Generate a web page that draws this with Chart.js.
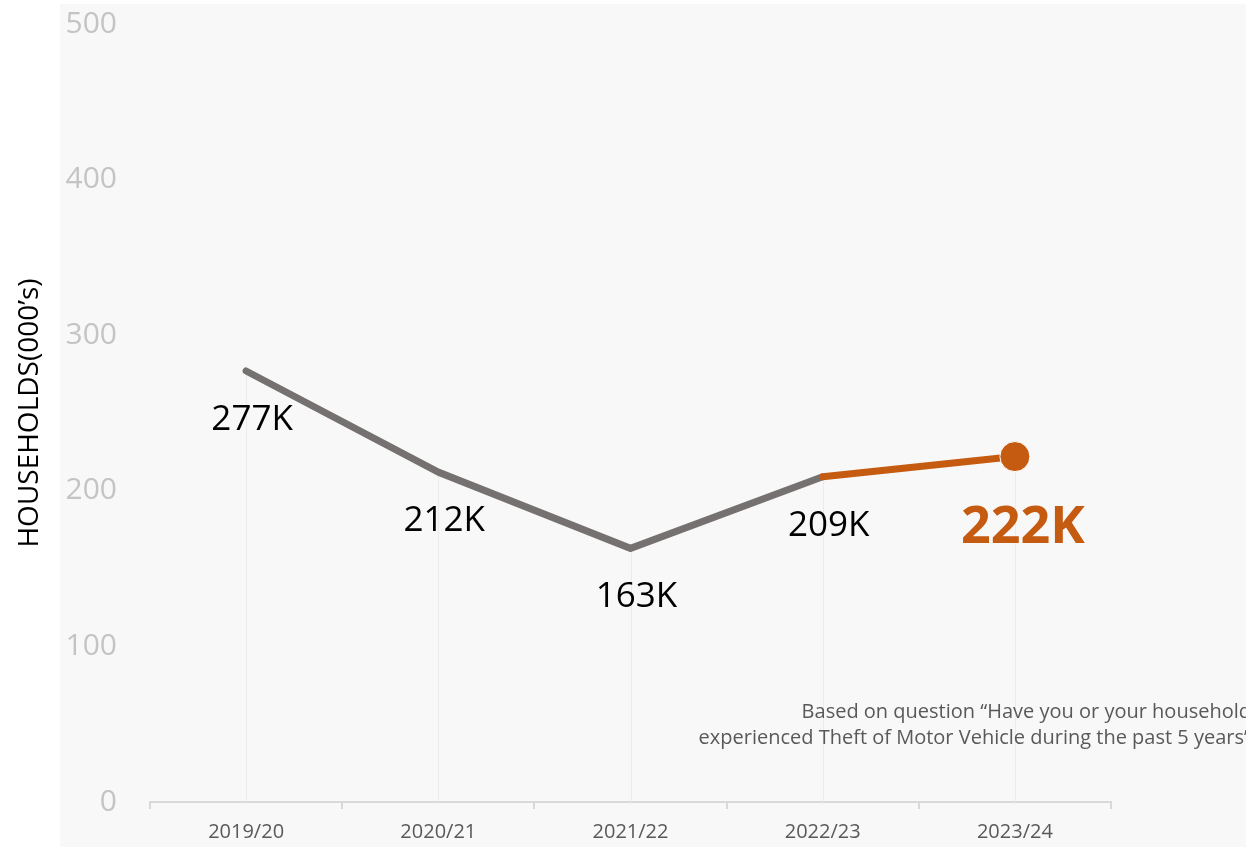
<!DOCTYPE html>
<html>
<head>
<meta charset="utf-8">
<script src="https://cdn.jsdelivr.net/npm/chart.js@4.4.1/dist/chart.umd.min.js"></script>
<style>
  html, body { margin: 0; padding: 0; background: #ffffff; }
  #wrap { width: 1246px; height: 847px; position: relative; }
</style>
</head>
<body>
<div id="wrap"><canvas id="c" width="1246" height="847"></canvas></div>
<script>
const categories = ['2019/20', '2020/21', '2021/22', '2022/23', '2023/24'];
const households = [277, 212, 163, 209, 222];
const yTicks = [0, 100, 200, 300, 400, 500];
const yTitle = 'HOUSEHOLDS(000\u2019s)';
const noteLines = [
  'Based on question \u201CHave you or your household',
  'experienced Theft of Motor Vehicle during the past 5 years\u201D'
];

const GRAY = '#767171';
const ORANGE = '#c55a11';
const FONT = "'Open Sans', 'Noto Sans', sans-serif";
const lastIdx = households.length - 1;

const panelPlugin = {
  id: 'panel',
  beforeDraw(chart) {
    const ctx = chart.ctx;
    ctx.save();
    ctx.fillStyle = '#f8f8f8';
    ctx.fillRect(60, 4, chart.width - 60, chart.height - 4);
    ctx.restore();
  }
};

const dropLinePlugin = {
  id: 'dropLines',
  beforeDatasetsDraw(chart) {
    const ctx = chart.ctx;
    const xs = chart.scales.x, ys = chart.scales.y;
    ctx.save();
    ctx.strokeStyle = '#ebebeb';
    ctx.lineWidth = 1;
    households.forEach((v, i) => {
      const px = Math.round(xs.getPixelForValue(i)) + 0.5;
      ctx.beginPath();
      ctx.moveTo(px, ys.getPixelForValue(v));
      ctx.lineTo(px, chart.chartArea.bottom);
      ctx.stroke();
    });
    ctx.restore();
  }
};

const labelPlugin = {
  id: 'valueLabels',
  afterDatasetsDraw(chart) {
    const ctx = chart.ctx;
    const xs = chart.scales.x, ys = chart.scales.y;
    ctx.save();
    ctx.textAlign = 'center';
    ctx.textBaseline = 'middle';
    households.forEach((v, i) => {
      const px = xs.getPixelForValue(i);
      const py = ys.getPixelForValue(v);
      if (i === lastIdx) {
        ctx.font = "bold 52px " + FONT;
        ctx.fillStyle = ORANGE;
        ctx.fillText(v + 'K', px + 8, py + 72);
      } else {
        ctx.font = "35px " + FONT;
        ctx.fillStyle = '#000000';
        ctx.fillText(v + 'K', px + 6, py + 49);
      }
    });
    // note text
    ctx.font = "20px " + FONT;
    ctx.fillStyle = '#595959';
    ctx.textAlign = 'right';
    ctx.fillText(noteLines[0], 1251, 712);
    ctx.fillText(noteLines[1], 1251, 738);
    ctx.restore();
  }
};

new Chart(document.getElementById('c'), {
  type: 'line',
  data: {
    labels: categories,
    datasets: [{
      data: households,
      borderColor: GRAY,
      borderWidth: 7,
      borderCapStyle: 'round',
      borderJoinStyle: 'round',
      tension: 0,
      segment: {
        borderColor: c => (c.p1DataIndex === lastIdx ? ORANGE : GRAY)
      },
      pointRadius: households.map((v, i) => (i === lastIdx ? 15 : 0)),
      pointHoverRadius: households.map((v, i) => (i === lastIdx ? 15 : 0)),
      pointBackgroundColor: ORANGE,
      pointBorderColor: '#ffffff',
      pointBorderWidth: 1
    }]
  },
  options: {
    responsive: false,
    animation: false,
    devicePixelRatio: 1,
    layout: { padding: { top: 24, right: 135, bottom: 0, left: 0 } },
    plugins: { legend: { display: false }, tooltip: { enabled: false } },
    scales: {
      x: {
        type: 'category',
        offset: true,
        afterFit: s => { s.height = 45; s.paddingLeft = 0; s.paddingRight = 0; },
        grid: {
          offset: true,
          drawOnChartArea: false,
          drawTicks: true,
          tickLength: 7,
          color: '#d9d9d9',
          lineWidth: 2
        },
        border: { display: true, color: '#d9d9d9', width: 2 },
        ticks: {
          color: '#595959',
          font: { family: FONT, size: 20 },
          padding: 11,
          maxRotation: 0
        }
      },
      y: {
        min: 0,
        max: 500,
        afterFit: s => { s.width = 150; s.paddingTop = 0; s.paddingBottom = 0; },
        afterBuildTicks: s => { s.ticks = yTicks.map(v => ({ value: v })); },
        grid: { display: false, drawTicks: false },
        border: { display: false },
        ticks: {
          color: '#c4c4c4',
          font: { family: FONT, size: 30 },
          padding: 33
        },
        title: {
          display: true,
          text: yTitle,
          color: '#000000',
          font: { family: FONT, size: 28 },
          padding: { top: 13, bottom: 0 }
        }
      }
    }
  },
  plugins: [panelPlugin, dropLinePlugin, labelPlugin]
});
</script>
</body>
</html>
